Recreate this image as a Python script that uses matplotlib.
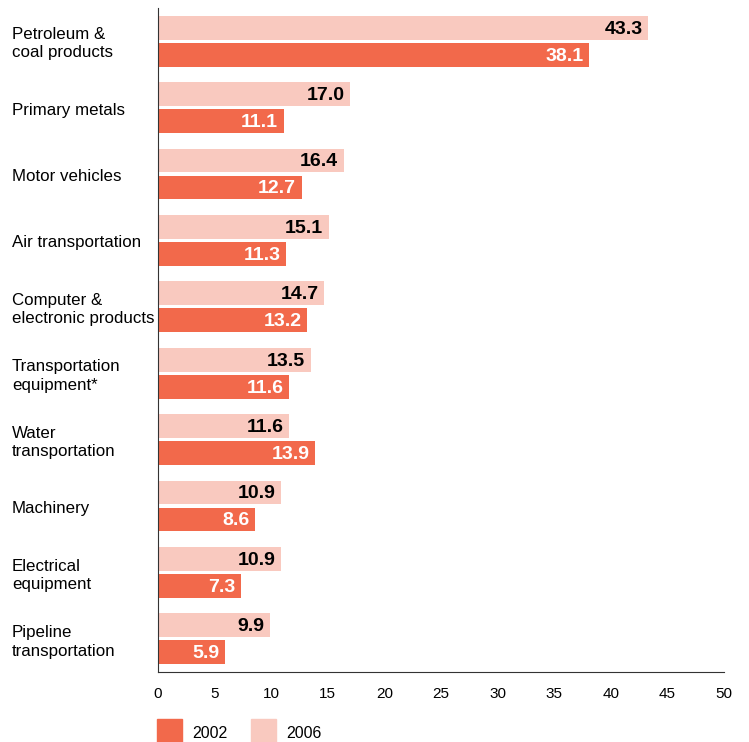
import numpy as np
import matplotlib.pyplot as plt
from matplotlib.patches import Rectangle

plt.rcParams['font.family'] = ['Liberation Sans', 'DejaVu Sans']

categories = ['Petroleum &\ncoal products', 'Primary metals', 'Motor vehicles',
              'Air transportation', 'Computer &\nelectronic products',
              'Transportation\nequipment*', 'Water\ntransportation', 'Machinery',
              'Electrical\nequipment', 'Pipeline\ntransportation']
v2006 = [43.3, 17.0, 16.4, 15.1, 14.7, 13.5, 11.6, 10.9, 10.9, 9.9]
v2002 = [38.1, 11.1, 12.7, 11.3, 13.2, 11.6, 13.9, 8.6, 7.3, 5.9]
years = ['2002', '2006']

c02 = '#F2694B'
c06 = '#F9C9BF'

fig = plt.figure(figsize=(7.49, 7.42), dpi=100)
ax = fig.add_axes([158/749, 1-672/742, (724-158)/749, (672-8)/742])

y = np.arange(len(categories))
h = 0.36
off = 0.203
ax.barh(y - off, v2006, height=h, color=c06)
ax.barh(y + off, v2002, height=h, color=c02)

for yi, a, b in zip(y, v2006, v2002):
    ax.text(a - 0.5, yi - off + 0.02, f'{a:.1f}', ha='right', va='center',
            fontsize=14, fontweight='bold', color='black')
    ax.text(b - 0.5, yi + off + 0.02, f'{b:.1f}', ha='right', va='center',
            fontsize=14, fontweight='bold', color='white')

ax.set_xlim(0, 50)
ax.set_ylim(9.5, -0.5)
ax.set_xticks(range(0, 51, 5))
ax.tick_params(axis='x', length=0, pad=11, labelsize=11)
ax.set_yticks([])
for s in ['top', 'right']:
    ax.spines[s].set_visible(False)
ax.spines['left'].set_color('#333333')
ax.spines['bottom'].set_color('#333333')

for yi, cat in zip(y, categories):
    fig.text(12/749, 1 - (43.5 + yi*66.5)/742, cat, ha='left', va='center',
             fontsize=12.2, linespacing=1.3)

# legend
for i, (lab, col) in enumerate(zip(years, [c02, c06])):
    x0 = 157 + i*94
    fig.patches.append(Rectangle((x0/749, 0), 25/749, 23/742, color=col,
                                 transform=fig.transFigure))
    fig.text((x0+35)/749, 1 - 733/742, lab, ha='left', va='center', fontsize=11.5)

fig.savefig('out.png', dpi=100)
